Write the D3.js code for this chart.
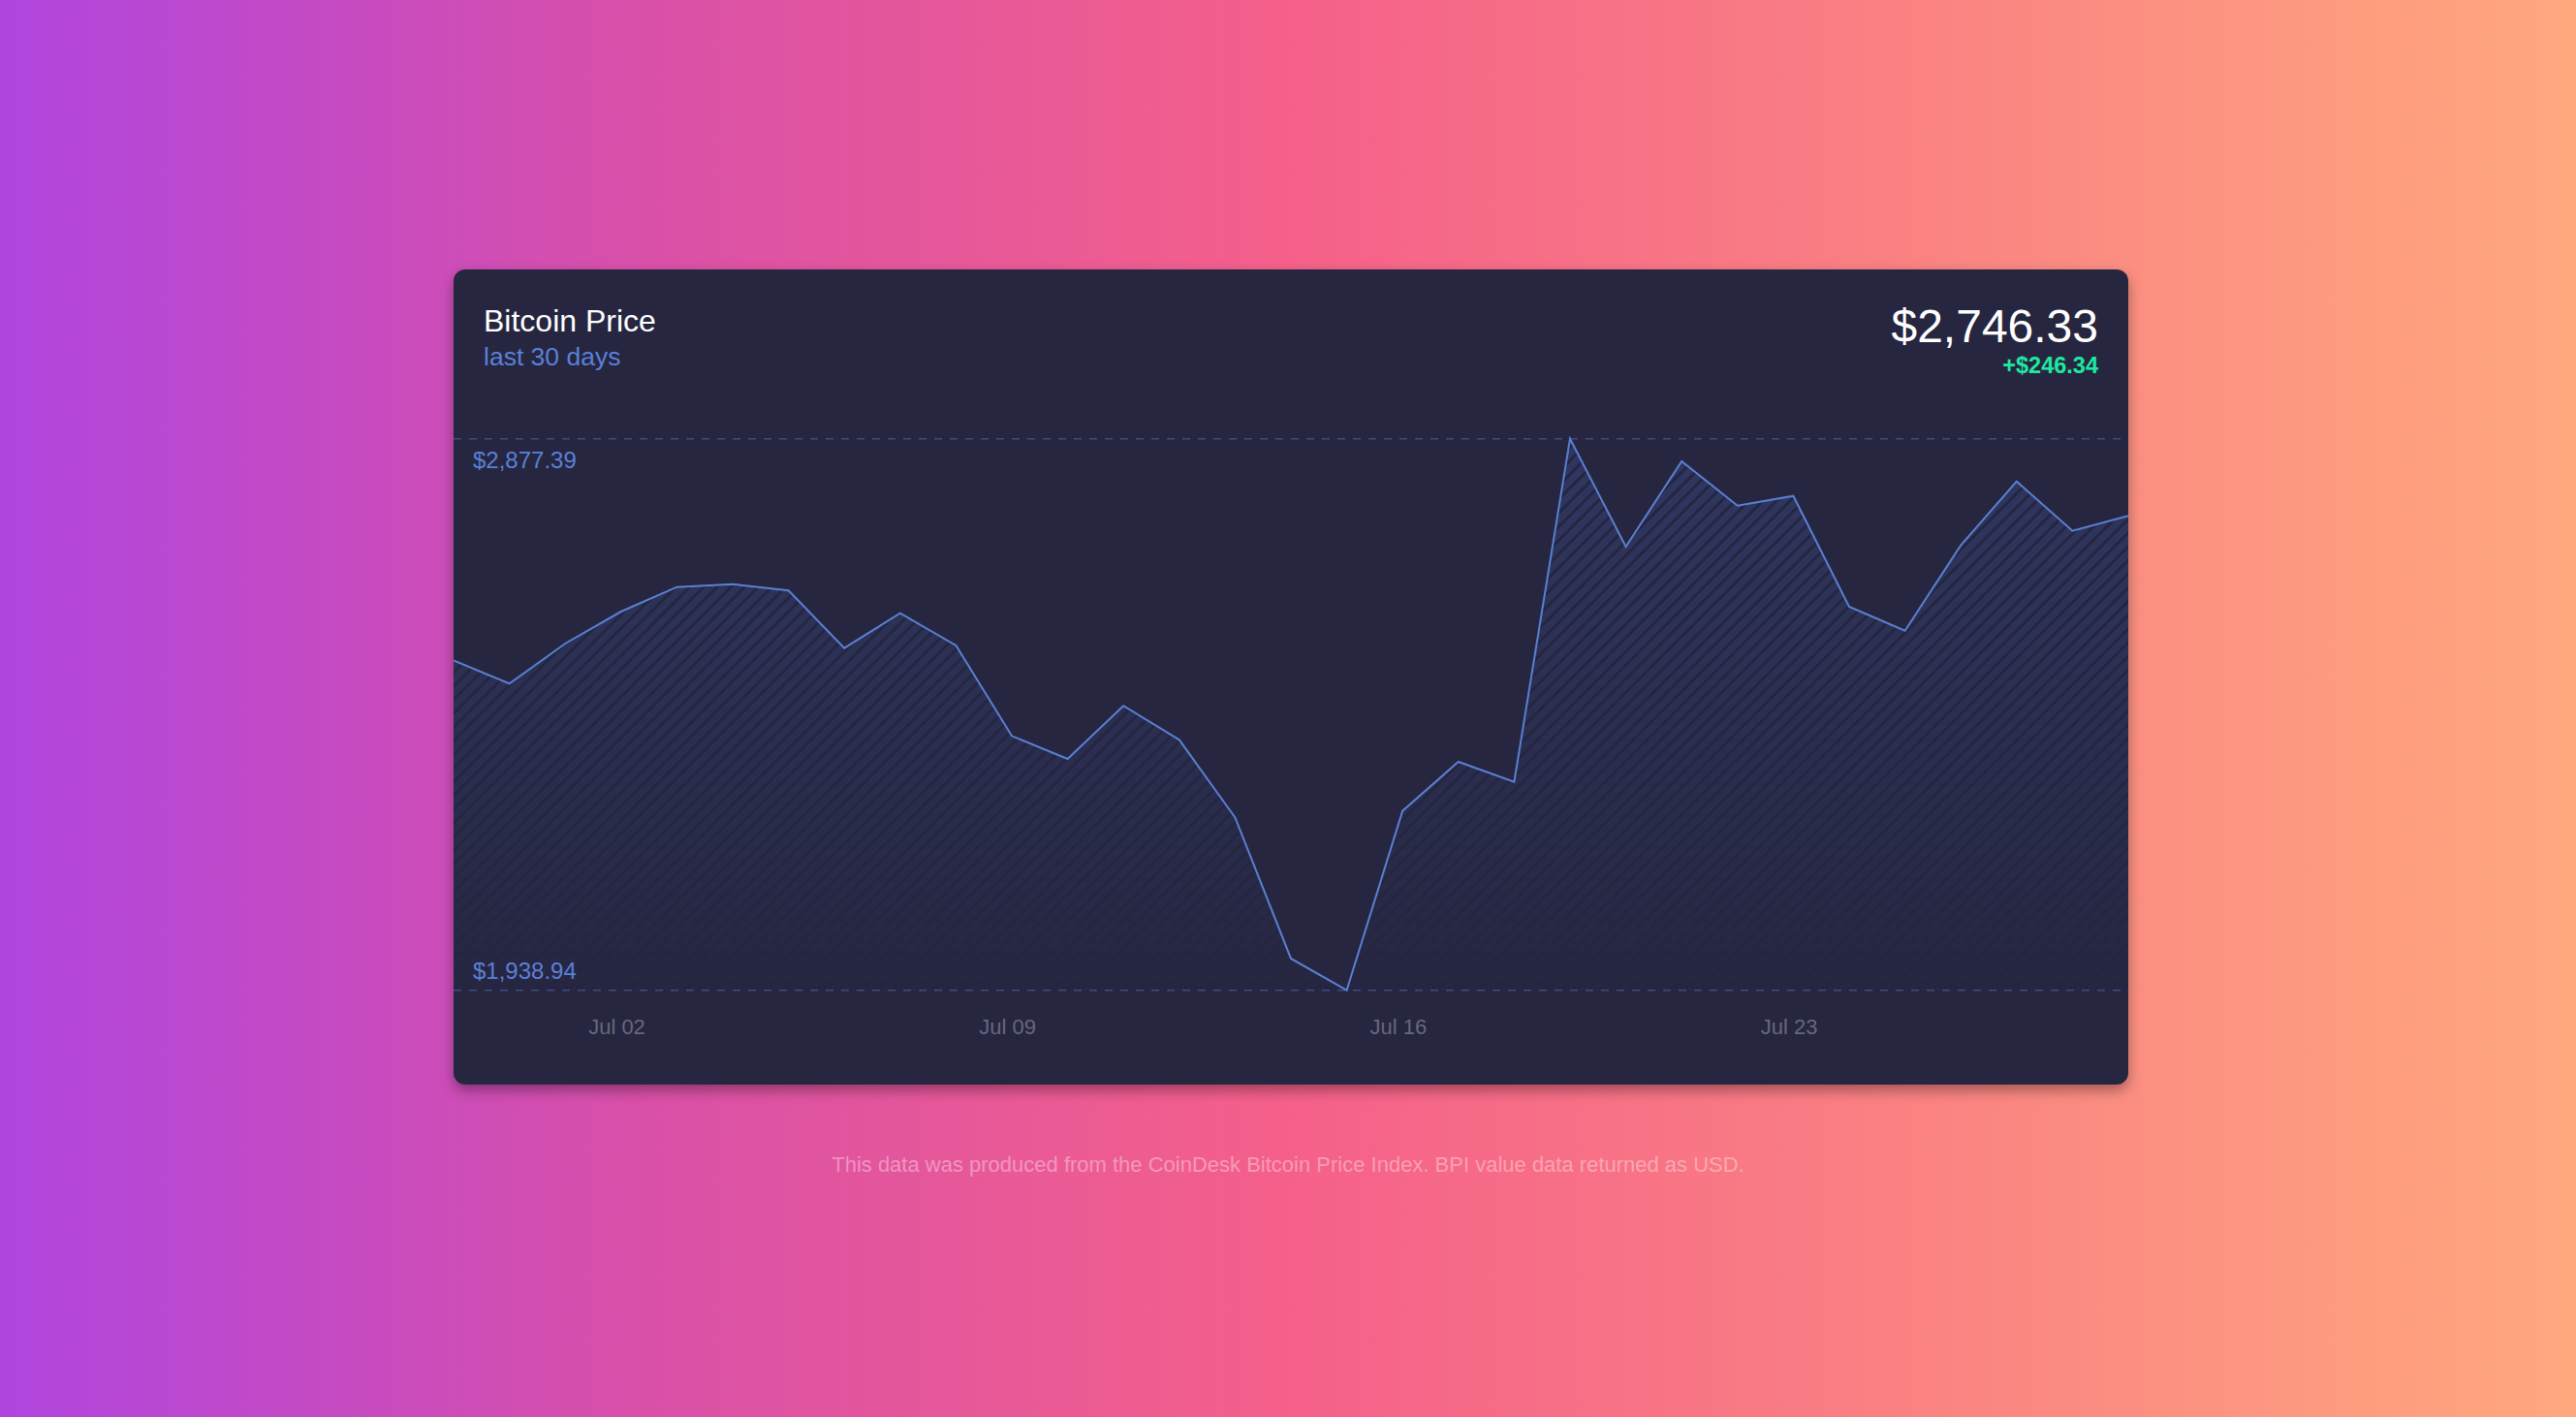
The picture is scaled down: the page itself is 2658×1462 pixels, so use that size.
<!DOCTYPE html>
<html>
<head>
<meta charset="utf-8">
<script src="https://cdn.jsdelivr.net/npm/d3@7"></script>
<style>
  html, body { margin: 0; padding: 0; overflow: hidden; }
  body { width: 2658px; height: 1462px; }
  svg { display: block; font-family: "Liberation Sans", Arial, Helvetica, sans-serif; }
</style>
</head>
<body>
<svg id="chart" width="2658" height="1462"></svg>
<script>
// ---- data ----
const dates = [
  "2017-06-29T02:00:00Z","2017-06-30T02:00:00Z","2017-07-01T02:00:00Z","2017-07-02T02:00:00Z",
  "2017-07-03T02:00:00Z","2017-07-04T02:00:00Z","2017-07-05T02:00:00Z","2017-07-06T02:00:00Z",
  "2017-07-07T02:00:00Z","2017-07-08T02:00:00Z","2017-07-09T02:00:00Z","2017-07-10T02:00:00Z",
  "2017-07-11T02:00:00Z","2017-07-12T02:00:00Z","2017-07-13T02:00:00Z","2017-07-14T02:00:00Z",
  "2017-07-15T02:00:00Z","2017-07-16T02:00:00Z","2017-07-17T02:00:00Z","2017-07-18T02:00:00Z",
  "2017-07-19T02:00:00Z","2017-07-20T02:00:00Z","2017-07-21T02:00:00Z","2017-07-22T02:00:00Z",
  "2017-07-23T02:00:00Z","2017-07-24T02:00:00Z","2017-07-25T02:00:00Z","2017-07-26T02:00:00Z",
  "2017-07-27T02:00:00Z","2017-07-28T02:00:00Z","2017-07-29T02:00:00Z"
];
const prices = [
  2499.99, 2460.8, 2528.9, 2583.3, 2625.1, 2630.0, 2619.1, 2521.2,
  2580.5, 2525.6, 2371.7, 2332.6, 2422.9, 2365.1, 2232.9, 1992.9,
  1938.94, 2244.1, 2327.7, 2293.5, 2877.39, 2693.8, 2839.0, 2763.6,
  2780.1, 2591.6, 2550.8, 2696.0, 2804.8, 2720.7, 2746.33
];
const tickDates = ["2017-07-02T00:00:00Z","2017-07-09T00:00:00Z","2017-07-16T00:00:00Z","2017-07-23T00:00:00Z"];
const titleText = "Bitcoin Price";
const subtitleText = "last 30 days";
const currentPrice = "$2,746.33";
const priceChange = "+$246.34";
const footerText = "This data was produced from the CoinDesk Bitcoin Price Index. BPI value data returned as USD.";

// ---- layout ----
const W = 2658, H = 1462;
const card = { x: 468, y: 278, w: 1728, h: 841, r: 12 };
const plot = { left: 468, right: 2196, top: 452.7, bottom: 1021.7 };

const svg = d3.select("#chart");
const defs = svg.append("defs");

// page background gradient
const bg = defs.append("linearGradient").attr("id", "bg").attr("x1", 0).attr("x2", 1).attr("y1", 0).attr("y2", 0);
bg.append("stop").attr("offset", "0%").attr("stop-color", "#b045df");
bg.append("stop").attr("offset", "25%").attr("stop-color", "#d950a8");
bg.append("stop").attr("offset", "50%").attr("stop-color", "#f5608a");
bg.append("stop").attr("offset", "75%").attr("stop-color", "#fa8382");
bg.append("stop").attr("offset", "100%").attr("stop-color", "#ffa87e");
svg.append("rect").attr("width", W).attr("height", H).attr("fill", "url(#bg)");

// card shadow
const shadow = defs.append("filter").attr("id", "shadow").attr("x", "-5%").attr("y", "-5%").attr("width", "110%").attr("height", "115%");
shadow.append("feDropShadow").attr("dx", 0).attr("dy", 6).attr("stdDeviation", 7)
  .attr("flood-color", "#000").attr("flood-opacity", 0.35);

svg.append("rect")
  .attr("x", card.x).attr("y", card.y).attr("width", card.w).attr("height", card.h)
  .attr("rx", card.r).attr("fill", "#27283f").attr("filter", "url(#shadow)");

// clip for chart to the card
defs.append("clipPath").attr("id", "cardClip").append("rect")
  .attr("x", card.x).attr("y", card.y).attr("width", card.w).attr("height", card.h).attr("rx", card.r);

// hatch pattern
const pat = defs.append("pattern").attr("id", "hatch").attr("patternUnits", "userSpaceOnUse")
  .attr("width", 10).attr("height", 10).attr("patternTransform", "rotate(45)");
pat.append("rect").attr("width", 10).attr("height", 10).attr("fill", "#303761");
pat.append("rect").attr("x", 0).attr("width", 3).attr("height", 10).attr("fill", "#242741");

// fade mask
const fade = defs.append("linearGradient").attr("id", "fade").attr("gradientUnits", "userSpaceOnUse")
  .attr("x1", 0).attr("x2", 0).attr("y1", plot.top).attr("y2", plot.bottom);
fade.append("stop").attr("offset", "0%").attr("stop-color", "#fff").attr("stop-opacity", 1);
fade.append("stop").attr("offset", "100%").attr("stop-color", "#fff").attr("stop-opacity", 0.05);
defs.append("mask").attr("id", "fadeMask").attr("maskUnits", "userSpaceOnUse")
  .attr("x", 0).attr("y", 0).attr("width", W).attr("height", H)
  .append("rect").attr("x", 0).attr("y", 0).attr("width", W).attr("height", H).attr("fill", "url(#fade)");

// ---- scales ----
const data = dates.map((d, i) => ({ date: new Date(d), price: prices[i] }));
const x = d3.scaleUtc().domain(d3.extent(data, d => d.date)).range([plot.left, plot.right]);
const yMin = d3.min(prices), yMax = d3.max(prices);
const y = d3.scaleLinear().domain([yMin, yMax]).range([plot.bottom, plot.top]);

const g = svg.append("g").attr("clip-path", "url(#cardClip)");

// area
const area = d3.area().x(d => x(d.date)).y0(y(yMin)).y1(d => y(d.price));
g.append("path").datum(data).attr("d", area)
  .attr("fill", "url(#hatch)").attr("mask", "url(#fadeMask)");

// dashed min/max lines
const fmt = d3.format("$,.2f");
[yMax, yMin].forEach(v => {
  g.append("line")
    .attr("x1", card.x).attr("x2", card.x + card.w)
    .attr("y1", y(v)).attr("y2", y(v))
    .attr("stroke", "#3f4c80").attr("stroke-width", 1.5).attr("stroke-dasharray", "8,8");
});

// line
const line = d3.line().x(d => x(d.date)).y(d => y(d.price));
g.append("path").datum(data).attr("d", line)
  .attr("fill", "none").attr("stroke", "#5a80d2").attr("stroke-width", 2)
  .attr("stroke-linejoin", "miter");

// y labels
svg.append("text").attr("x", 488).attr("y", y(yMax) + 30.6)
  .attr("font-size", 24).attr("fill", "#5a80d8").text(fmt(yMax));
svg.append("text").attr("x", 488).attr("y", y(yMin) - 11.7)
  .attr("font-size", 24).attr("fill", "#5a80d8").text(fmt(yMin));

// x axis
const xAxis = d3.axisBottom(x)
  .tickValues(tickDates.map(d => new Date(d)))
  .tickFormat(d3.utcFormat("%b %d"))
  .tickSize(0).tickPadding(9.4);
const ax = svg.append("g").attr("transform", `translate(0,${1042})`).call(xAxis);
ax.select(".domain").remove();
ax.selectAll("text").attr("font-size", 22).attr("fill", "#67677e")
  .attr("font-family", "'Liberation Sans', Arial, sans-serif");

// header texts
svg.append("text").attr("x", 499).attr("y", 341.7).attr("font-size", 32).attr("fill", "#ffffff").text(titleText);
svg.append("text").attr("x", 499).attr("y", 377.3).attr("font-size", 26.5).attr("fill", "#5a80d8").text(subtitleText);
svg.append("text").attr("x", 2165).attr("y", 353.3).attr("font-size", 48).attr("text-anchor", "end")
  .attr("fill", "#ffffff").text(currentPrice);
svg.append("text").attr("x", 2165).attr("y", 385).attr("font-size", 23.5).attr("font-weight", "bold")
  .attr("text-anchor", "end").attr("fill", "#1ee8a0").text(priceChange);

// footer
svg.append("text").attr("x", W / 2).attr("y", 1209).attr("font-size", 22).attr("text-anchor", "middle")
  .attr("fill", "#ffffff").attr("fill-opacity", 0.38).text(footerText);
</script>
</body>
</html>
